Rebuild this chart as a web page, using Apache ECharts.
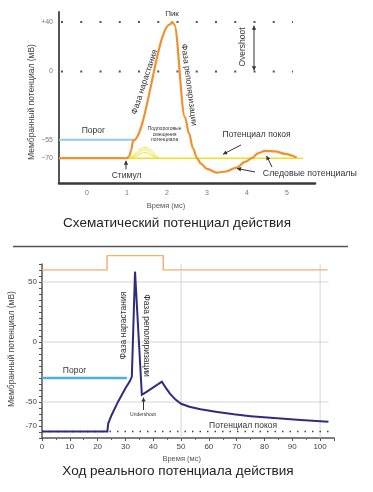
<!DOCTYPE html>
<html><head><meta charset="utf-8">
<script src="https://cdn.jsdelivr.net/npm/echarts@6/dist/echarts.min.js"></script>
<style>html,body{margin:0;padding:0;background:#fff}#c{width:373px;height:492px}</style>
</head><body><div id="c"></div>
<script>
// ---------- DATA: schematic action potential (top) ----------
const schemTimeTicks = [0, 1, 2, 3, 4, 5];
const schemVoltTicks = [40, 0, -55, -70];
const schemVoltLabels = {'40': '+40', '0': '0', '-55': '−55', '-70': '−70'};
const schemAP = [[-0.7,-70],[1.0,-70],[1.06,-68],[1.11,-63],[1.15,-56],[2.08,38],[2.13,40],[2.18,38],
  [2.45,-37],[2.55,-50],[2.65,-62],[2.75,-70],[2.85,-74.5],[3.0,-78.6],[3.24,-81.6],[3.475,-80.7],
  [3.74,-77.6],[3.95,-73],[4.12,-70],[4.27,-66.1],[4.45,-64.1],[4.7,-64.5],[4.95,-66.5],[5.24,-69.5]];
const schemRest = [[-0.7,-70],[5.4,-70]];
const schemThreshold = [[-0.7,-55],[1.2,-55]];
const subBump1 = [[1.05,-70],[1.2,-66.5],[1.32,-63],[1.45,-61.4],[1.58,-63],[1.7,-67],[1.8,-70]];
const subBump2 = [[1.08,-70],[1.22,-67.5],[1.33,-64.8],[1.45,-63.3],[1.57,-64.8],[1.68,-68],[1.77,-70]];
const subBump3 = [[1.1,-70],[1.24,-68.4],[1.35,-66.3],[1.45,-65.5],[1.55,-66.3],[1.65,-68.5],[1.74,-70]];
const schemDotRows = [40, 0];

// ---------- DATA: real action potential (bottom) ----------
const realTimeTicks = [0,10,20,30,40,50,60,70,80,90,100];
const realVoltTicks = [50, 0, -50, -70];
const realAP = [[0,-74.6],[23.5,-74.6],[23.8,-68],[25,-61],[27.4,-49.5],[30,-38.5],[31.5,-33],[32.3,-29],
  [33.45,58.6],[35.9,-44],[37.6,-41.5],[43.1,-33],[44.6,-38.5],[46,-43],[48,-48],[50,-51.5],[53,-54],
  [57,-56],[63,-58.3],[69,-60.3],[75,-61.8],[81,-63],[87,-64],[93,-65],[103,-66.4]];
const realStimulus = [[0,0],[23.4,0],[23.4,1],[43.6,1],[43.6,0],[102.7,0]];
const realThreshold = [[0,-30],[30.5,-30]];
const realRest = [[0,-74.6],[104.5,-74.6]];
const realHGrid = [50, 0, -50];
const realVGrid = [50, 100];

const FONT = "'Liberation Sans', Arial, sans-serif";
const chart = echarts.init(document.getElementById('c'), null, {renderer: 'canvas'});

const series = [];
// top
schemDotRows.forEach(v => series.push({type:'line', xAxisIndex:0, yAxisIndex:0, data:[[-0.65,v],[5.15,v]],
  symbol:'none', silent:true, z:1, lineStyle:{color:'#555', width:2, type:[2,17.25], cap:'butt'}}));
series.push({type:'line', xAxisIndex:0, yAxisIndex:0, data:schemRest, symbol:'none', z:2,
  lineStyle:{color:'#efe21a', width:1.5}});
[subBump1, subBump2, subBump3].forEach(b => series.push({type:'line', xAxisIndex:0, yAxisIndex:0, data:b,
  symbol:'none', smooth:0.5, z:2, lineStyle:{color:'#f2e52a', width:1}}));
series.push({type:'line', xAxisIndex:0, yAxisIndex:0, data:schemThreshold, symbol:'none', z:3,
  lineStyle:{color:'#8dcde6', width:2}});
series.push({type:'line', xAxisIndex:0, yAxisIndex:0, data:schemAP, symbol:'none', smooth:0.35,
  smoothMonotone:'x', z:4, lineStyle:{color:'#f0902e', width:2.2}});
// bottom
realHGrid.forEach(v => series.push({type:'line', xAxisIndex:1, yAxisIndex:1, data:[[0,v],[103,v]],
  symbol:'none', silent:true, z:1, lineStyle:{color:'#d4d4d4', width:1}}));
realVGrid.forEach(v => series.push({type:'line', xAxisIndex:1, yAxisIndex:1, data:[[v,-80],[v,65]],
  symbol:'none', silent:true, z:1, lineStyle:{color:'#d4d4d4', width:1}}));
series.push({type:'line', xAxisIndex:1, yAxisIndex:1, data:realRest, symbol:'none', z:2,
  lineStyle:{color:'#444', width:1.5, type:[1.5,6]}});
series.push({type:'line', xAxisIndex:1, yAxisIndex:1, data:realThreshold, symbol:'none', z:3,
  lineStyle:{color:'#4aafe2', width:2.5}});
series.push({type:'line', xAxisIndex:1, yAxisIndex:1, data:realAP, symbol:'none', z:4,
  lineStyle:{color:'#2f2c7e', width:2, join:'miter'}});
series.push({type:'line', xAxisIndex:2, yAxisIndex:2, data:realStimulus, symbol:'none', z:4,
  lineStyle:{color:'#f4b272', width:1.5}});

const option = {
  animation: false,
  backgroundColor: '#fff',
  textStyle: {fontFamily: FONT},
  grid: [
    {left:59, right:58, top:12, height:171},
    {left:42, right:39, top:264, height:174},
    {left:42, right:39, top:255.5, height:14.5}
  ],
  xAxis: [
    {gridIndex:0, type:'value', min:-0.7, max:5.7,
      axisLine:{onZero:false, lineStyle:{color:'#3a3a3a', width:2.5}}, axisTick:{show:false}, splitLine:{show:false},
      axisLabel:{customValues:schemTimeTicks, color:'#777', fontSize:7, margin:7, fontFamily:FONT}},
    {gridIndex:1, type:'value', min:0, max:105, interval:10,
      axisLine:{onZero:false, lineStyle:{color:'#555', width:1.5}},
      axisTick:{length:3, lineStyle:{color:'#555'}}, minorTick:{show:true, splitNumber:2, length:2, lineStyle:{color:'#666'}},
      splitLine:{show:false},
      axisLabel:{color:'#444', fontSize:8, margin:5, fontFamily:FONT,
        formatter: v => realTimeTicks.indexOf(v) >= 0 ? String(v) : ''}},
    {gridIndex:2, type:'value', min:0, max:105, show:false}
  ],
  yAxis: [
    {gridIndex:0, type:'value', min:-90, max:48,
      axisLine:{show:true, onZero:false, lineStyle:{color:'#555', width:2}}, axisTick:{show:false}, splitLine:{show:false},
      axisLabel:{customValues:schemVoltTicks, color:'#777', fontSize:7, margin:6, fontFamily:FONT,
        formatter: v => schemVoltLabels[String(v)] || ''}},
    {gridIndex:1, type:'value', min:-80, max:65, interval:5,
      axisLine:{show:true, onZero:false, lineStyle:{color:'#555', width:1.5}},
      axisTick:{length:3, lineStyle:{color:'#555'}}, splitLine:{show:false},
      axisLabel:{color:'#444', fontSize:8, margin:5, fontFamily:FONT,
        formatter: v => realVoltTicks.indexOf(v) >= 0 ? String(v) : ''}},
    {gridIndex:2, type:'value', min:0, max:1, show:false}
  ],
  series: series
};
chart.setOption(option);

// ---------- annotations (positions given in data units, converted by the chart) ----------
function P(g, pt) { return chart.convertToPixel({gridIndex: g}, pt); }
function txt(g, pt, text, size, rotDeg, color, lh) {
  const p = P(g, pt);
  const st = {text:text, fill:color||'#333', font:size+'px '+FONT, align:'center', verticalAlign:'middle'};
  if (lh) st.lineHeight = lh;
  return {type:'text', x:p[0], y:p[1], rotation:(rotDeg||0)*Math.PI/180, z:100, style:st};
}
function ptxt(x, y, text, size, rotDeg, color) {
  return {type:'text', x:x, y:y, rotation:(rotDeg||0)*Math.PI/180, z:100,
    style:{text:text, fill:color||'#333', font:size+'px '+FONT, align:'center', verticalAlign:'middle'}};
}
function arrow(g, a, b, both) {
  const p1 = P(g, a), p2 = P(g, b);
  const els = [{type:'line', z:100, shape:{x1:p1[0], y1:p1[1], x2:p2[0], y2:p2[1]}, style:{stroke:'#333', lineWidth:1}}];
  const head = (from, to) => {
    const ang = Math.atan2(to[1]-from[1], to[0]-from[0]), L = 4, W = 2.2;
    const bx = to[0] - L*Math.cos(ang), by = to[1] - L*Math.sin(ang);
    els.push({type:'polygon', z:100, shape:{points:[[to[0],to[1]],[bx - W*Math.sin(ang), by + W*Math.cos(ang)],[bx + W*Math.sin(ang), by - W*Math.cos(ang)]]},
      style:{fill:'#333'}});
  };
  head(p1, p2);
  if (both) head(p2, p1);
  return els;
}

const g = [];
// top chart
g.push(txt(0, [2.125, 46.4], 'Пик', 8));
g.push(txt(0, [1.44, -8.5], 'Фаза нарастания', 8.5, 71.7));
g.push(txt(0, [2.55, -10.9], 'Фаза реполяризации', 8.5, -82.8));
g.push(txt(0, [3.9, 19.8], 'Overshoot', 8.5, 90));
g.push(...arrow(0, [4.175, 37], [4.175, 1], true));
g.push(txt(0, [0.16, -48], 'Порог', 8.5));
g.push(txt(0, [1.94, -50.9], 'Подпороговые\nсмещения\nпотенциала', 5, 0, '#333', 5.5));
g.push(txt(0, [0.99, -84], 'Стимул', 8.5));
g.push(...arrow(0, [0.975, -79], [0.975, -72]));
g.push(txt(0, [4.24, -51.3], 'Потенциал покоя', 8.5));
g.push(...arrow(0, [3.85, -59.3], [3.4, -66.8]));
g.push(txt(0, [5.57, -82], 'Следовые потенциалы', 8.8));
g.push(...arrow(0, [4.2, -81.1], [3.75, -78.3]));
g.push(...arrow(0, [4.625, -77.1], [4.49, -68.2]));
g.push(ptxt(166, 205.5, 'Время (мс)', 7.5, 0, '#555'));
g.push(ptxt(32, 102, 'Мембранный потенциал (мВ)', 8.5, 90, '#444'));
g.push(ptxt(177, 223, 'Схематический потенциал действия', 13.5, 0, '#222'));
// separator
g.push({type:'line', shape:{x1:13, y1:246.5, x2:348, y2:246.5}, style:{stroke:'#555', lineWidth:1.5}});
// bottom chart
g.push(txt(1, [29.3, 13.75], 'Фаза нарастания', 8.5, 90));
g.push(txt(1, [37.65, 5.4], 'Фаза реполяризации', 8.5, -90));
g.push(txt(1, [11.7, -24.2], 'Порог', 8.5));
g.push(txt(1, [36.3, -60.8], 'Undershoot', 5));
g.push(...arrow(1, [36.5, -56.7], [36.5, -46.3]));
g.push(txt(1, [72.3, -70], 'Потенциал покоя', 8.5));
g.push(ptxt(181.7, 459, 'Время (мс)', 7.5, 0, '#555'));
g.push(ptxt(12, 349, 'Мембранный потенциал (мВ)', 8.5, 90, '#444'));
g.push(ptxt(178, 471, 'Ход реального потенциала действия', 13.5, 0, '#222'));

chart.setOption({graphic: g});
</script>
</body></html>
